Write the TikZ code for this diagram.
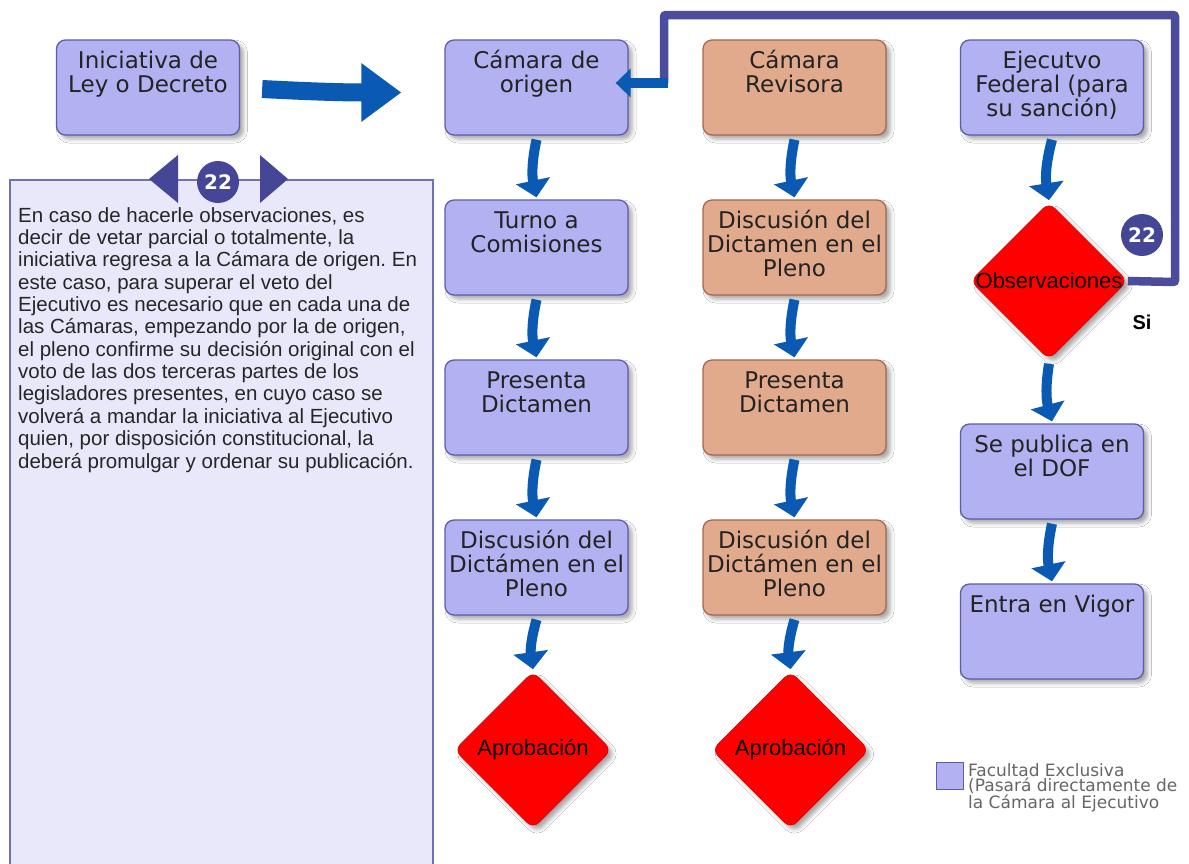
\documentclass[tikz,border=0pt]{standalone}
\usepackage{fontspec}
\setmainfont{DejaVu Sans}
\newfontfamily\arialfont{Liberation Sans}
\usetikzlibrary{arrows.meta,shapes.geometric,shadows.blur}
\frenchspacing

\definecolor{lavfill}{RGB}{178,178,242}
\definecolor{lavline}{RGB}{92,92,170}
\definecolor{tanfill}{RGB}{226,170,140}
\definecolor{tanline}{RGB}{165,105,75}
\definecolor{flowblue}{RGB}{10,90,180}
\definecolor{loopcol}{RGB}{76,76,156}
\definecolor{badgecol}{RGB}{70,70,150}
\definecolor{panelfill}{RGB}{232,232,250}
\definecolor{panelline}{RGB}{112,112,182}
\definecolor{txtdark}{RGB}{35,35,35}

\begin{document}
\begin{tikzpicture}[x=1pt,y=-1pt,
  softshadow/.style={blur shadow={shadow xshift=4pt,shadow yshift=-4pt,shadow blur radius=4pt,shadow opacity=35}},
  stage/.style={draw=lavline,line width=1.3pt,fill=lavfill,rounded corners=9pt,
    minimum width=183pt,minimum height=95pt,inner sep=0pt,softshadow},
  revstage/.style={stage,draw=tanline,fill=tanfill},
  % anchor=base sits on the baseline of the last line
  btxt/.style={font=\fontsize{23}{24}\selectfont,text=txtdark,align=center,anchor=base,inner sep=0pt},
  decision/.style={diamond,aspect=1,fill=red,draw=red!85!black,line width=0.6pt,rounded corners=8pt,
    minimum width=157pt,minimum height=157pt,inner sep=0pt,softshadow},
  dtxt/.style={font=\arialfont\fontsize{22}{22}\selectfont,text=black,inner sep=0pt},
  flow/.style={draw=flowblue,line width=10pt,-{Triangle[width=34pt,length=17pt]}},
  loopline/.style={draw=loopcol,line width=8.5pt,rounded corners=2pt},
  badge/.style={circle,fill=badgecol,text=white,minimum size=42pt,inner sep=0pt,
    font=\bfseries\fontsize{20}{20}\selectfont},
]
% canvas
\fill[white] (0,0) rectangle (1189,863);
\useasboundingbox (0,0) rectangle (1189,863);

% explanatory panel with its badge
\draw[fill=panelfill,draw=panelline,line width=1.6pt] (10,180) rectangle (433,885);
\fill[badgecol] (149,179) -- (178,155) -- (178,203) -- cycle;
\fill[badgecol] (288,179) -- (260,155) -- (260,203) -- cycle;
\node[badge] (bnote) at (218,182) {22};
\node[font=\arialfont\fontsize{20.5}{22.36}\selectfont,align=left,anchor=base west,
  inner sep=0pt,text=black!85] (note) at (18,468)
  {En caso de hacerle observaciones, es\\
   decir de vetar parcial o totalmente, la\\
   iniciativa regresa a la Cámara de origen. En\\
   este caso, para superar el veto del\\
   Ejecutivo es necesario que en cada una de\\
   las Cámaras, empezando por la de origen,\\
   el pleno confirme su decisión original con el\\
   voto de las dos terceras partes de los\\
   legisladores presentes, en cuyo caso se\\
   volverá a mandar la iniciativa al Ejecutivo\\
   quien, por disposición constitucional, la\\
   deberá promulgar y ordenar su publicación.};

% stages
\node[stage] (ini) at (148,87.5) {};
\node[stage] (co)  at (536.5,87.5) {};
\node[stage] (tc)  at (536.5,247.5) {};
\node[stage] (pa)  at (536.5,407.5) {};
\node[stage] (da)  at (536.5,567.5) {};
\node[revstage] (cr)  at (794.5,87.5) {};
\node[revstage] (db)  at (794.5,247.5) {};
\node[revstage] (pb)  at (794.5,407.5) {};
\node[revstage] (ddb) at (794.5,567.5) {};
\node[stage] (ej)  at (1052,87.5) {};
\node[stage] (pub) at (1052,471.5) {};
\node[stage] (vig) at (1052,631.5) {};

% two-line labels: last baseline 53 below the top; three-line: 77; one-line: 29
\node[btxt] (tini) at ([shift={(0,53)}]ini.north) {Iniciativa de\\Ley o Decreto};
\node[btxt] (tco)  at ([shift={(0,53)}]co.north)  {Cámara de\\origen};
\node[btxt] (ttc)  at ([shift={(0,53)}]tc.north)  {Turno a\\Comisiones};
\node[btxt] (tpa)  at ([shift={(0,53)}]pa.north)  {Presenta\\Dictamen};
\node[btxt] (tda)  at ([shift={(0,77)}]da.north)  {Discusión del\\Dictámen en el\\Pleno};
\node[btxt] (tcr)  at ([shift={(0,53)}]cr.north)  {Cámara\\Revisora};
\node[btxt] (tdb)  at ([shift={(0,77)}]db.north)  {Discusión del\\Dictamen en el\\Pleno};
\node[btxt] (tpb)  at ([shift={(0,53)}]pb.north)  {Presenta\\Dictamen};
\node[btxt] (tddb) at ([shift={(0,77)}]ddb.north) {Discusión del\\Dictámen en el\\Pleno};
\node[btxt] (tej)  at ([shift={(0,77)}]ej.north)  {Ejecutvo\\Federal (para\\su sanción)};
\node[btxt] (tpub) at ([shift={(0,53)}]pub.north) {Se publica en\\el DOF};
\node[btxt] (tvig) at ([shift={(0,29)}]vig.north) {Entra en Vigor};

% decisions
\node[decision] (apA) at (533,750) {};
\node[decision] (apB) at (790.5,750) {};
\node[decision] (obs) at (1049,281) {};
\node[dtxt] (tapA) at (apA) {Aprobación};
\node[dtxt] (tapB) at (apB) {Aprobación};
\node[dtxt] (tobs) at (obs) {Observaciones};

% main entry arrow
\draw[draw=flowblue,line width=18pt,-{Triangle[width=56pt,length=40pt]}]
  ([shift={(22,1.5)}]ini.east) to[out=-3,in=180] ([shift={(-43,5)}]co.west);

% flow arrows
\foreach \a/\b in {co/tc,tc/pa,pa/da,da/apA,cr/db,db/pb,pb/ddb,ddb/apB,ej/obs,obs/pub,pub/vig}
  \draw[flow] ([shift={(0,4)}]\a.south) to[bend right=12] ([shift={(0,-2)}]\b.north);

% veto loop back to the chamber of origin
\coordinate (lpA) at (1175,282);
\coordinate (lpB) at (1175,15);
\coordinate (lpC) at (664,15);
\coordinate (lpD) at (664,83);
\draw[loopline] (obs.east) -- (lpA) -- (lpB) -- (lpC) -- (lpD);
\draw[draw=flowblue,line width=10pt,-{Triangle[width=28pt,length=15pt]}]
  ([shift={(4,0)}]lpD) -- ([shift={(-13,-4.5)}]co.east);
\node[badge] (bloop) at (1142,235) {22};
\node[font=\arialfont\bfseries\fontsize{20}{20}\selectfont,inner sep=0pt] (si) at (1142,322) {Si};

% legend
\node[draw=lavline,fill=lavfill,line width=1.5pt,minimum size=27pt,inner sep=0pt] (legbox) at (950,776) {};
\node[anchor=base west,font=\fontsize{17}{15}\selectfont,text=black!60,align=left,inner sep=0pt]
  (legtxt) at (968,808) {Facultad Exclusiva\\(Pasará directamente de\\la Cámara al Ejecutivo};
\end{tikzpicture}
\end{document}
